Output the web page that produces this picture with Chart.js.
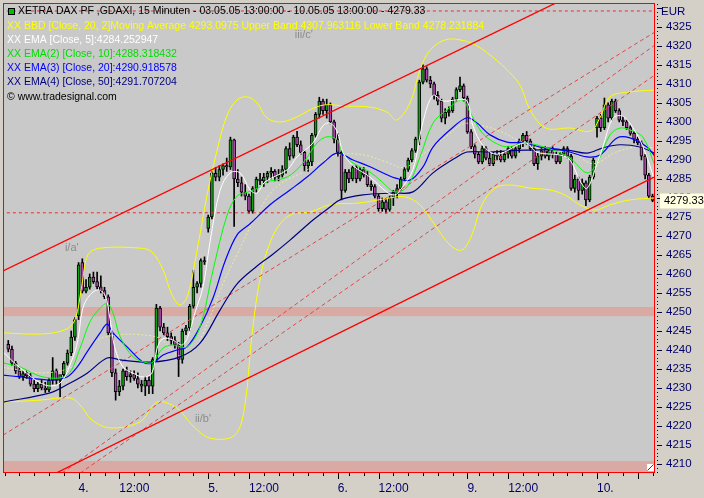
<!DOCTYPE html>
<html>
<head>
<meta charset="utf-8">
<script src="https://cdn.jsdelivr.net/npm/chart.js@4.4.1/dist/chart.umd.min.js"></script>
<style>
  html, body { margin: 0; padding: 0; background: #d4d0c8; }
  canvas { display: block; }
</style>
</head>
<body>
<canvas id="chart" width="704" height="498"></canvas>
<script>
// 15 minute candles, 03.05.05 13:00 - 10.05.05 12:45  [open, high, low, close]
const ohlc = [
  [4241.5, 4242.5, 4239.5, 4240.2], [4240.2, 4241, 4236, 4236.5], [4236.5, 4237, 4233.8, 4234.5],
  [4234.5, 4235.5, 4232.5, 4233], [4233, 4234.5, 4232, 4233.8], [4233.8, 4234.5, 4232.5, 4233.2],
  [4233.2, 4233.8, 4230.5, 4231], [4231, 4232, 4229, 4229.8], [4229.8, 4231.5, 4229, 4231],
  [4231, 4232, 4229.5, 4230], [4230, 4231.5, 4228.8, 4229.5], [4229.5, 4232.5, 4229, 4232],
  [4232, 4238, 4231, 4234.5], [4234.5, 4235, 4231, 4232], [4232, 4233, 4227.6, 4233.5],
  [4233.5, 4237, 4233, 4236.5], [4236.5, 4240, 4236, 4239.2], [4239.2, 4245, 4238.5, 4243.4],
  [4243.4, 4248.5, 4242.5, 4248],
  // 4.
  [4249, 4263, 4248, 4262.4], [4263, 4264, 4255, 4255.5], [4255.5, 4258.5, 4255, 4256.5],
  [4256.5, 4260, 4256, 4259.2], [4259.2, 4260.5, 4257.5, 4258], [4258, 4260.5, 4256, 4256.6],
  [4256.6, 4259.5, 4255, 4255.6], [4255.6, 4256.5, 4253.5, 4254], [4254, 4254.5, 4244, 4244.5],
  [4244.5, 4245, 4233, 4234], [4234, 4235, 4226.8, 4229], [4229, 4232, 4228, 4230.5],
  [4230.5, 4235, 4229.5, 4234.5], [4234.5, 4235.5, 4232, 4233], [4233, 4234.5, 4231.5, 4233.5],
  [4233.5, 4234.5, 4232, 4232.5], [4232.5, 4234, 4230, 4231], [4231, 4232, 4229, 4230.5],
  [4230.5, 4233, 4228, 4232], [4232, 4233, 4228.5, 4230.5], [4230.5, 4238, 4228.5, 4237.5],
  [4237.5, 4252, 4237, 4251], [4251, 4251.5, 4245, 4246], [4246, 4247, 4244, 4244.5],
  [4244.5, 4246, 4242.5, 4243.5], [4243.5, 4244.5, 4241.5, 4242.5], [4242.5, 4243.5, 4240.5, 4241.3],
  [4241.3, 4242, 4233, 4237.5], [4237.5, 4245.5, 4236.5, 4245], [4245, 4246.5, 4244, 4245.8],
  [4245.8, 4252, 4245, 4251.5], [4251.5, 4261, 4251, 4256.5], [4256.5, 4258, 4255, 4257.5],
  [4257.5, 4264, 4256.5, 4263.5], [4263.5, 4264.5, 4262.5, 4263.2],
  // 5.
  [4272, 4275.5, 4271, 4275], [4275, 4287, 4274.5, 4286.5], [4286.5, 4288, 4284.5, 4285.5],
  [4285.5, 4288.5, 4284.5, 4287.5], [4287.5, 4289, 4286, 4288.5], [4288.5, 4290.5, 4287, 4288.2],
  [4288.2, 4296, 4287.5, 4295.3], [4295.3, 4295.5, 4272.5, 4285], [4285, 4287.5, 4283, 4284],
  [4284, 4285.5, 4280.5, 4281.5], [4281.5, 4283.5, 4279.5, 4280.5], [4280.5, 4281, 4276, 4276.5],
  [4276.5, 4283, 4276, 4282.5], [4282.5, 4285.5, 4281.5, 4285], [4285, 4286.5, 4283.5, 4284.5],
  [4284.5, 4286.5, 4283, 4285.5], [4285.5, 4287, 4284, 4286.5], [4286.5, 4288, 4285, 4287],
  [4287, 4287.5, 4284.5, 4285.5], [4285.5, 4287.5, 4284.5, 4286], [4286, 4288.5, 4285.5, 4287.5],
  [4287.5, 4293.5, 4286.5, 4293], [4293, 4294.5, 4290, 4291], [4291, 4296.5, 4290.5, 4296],
  [4296, 4297.5, 4293.5, 4294], [4294, 4295, 4291.5, 4292], [4292, 4292.5, 4287, 4288.5],
  [4288.5, 4290, 4287, 4289.5], [4289.5, 4297, 4288.5, 4296.5], [4296.5, 4302.5, 4296, 4302],
  [4302, 4306.5, 4301, 4305.5], [4305.5, 4306, 4302, 4303], [4303, 4306, 4301, 4304.5],
  [4304.5, 4305, 4299.5, 4300], [4300, 4300.5, 4294.5, 4295.5],
  // 6.
  [4295.5, 4297, 4291, 4292], [4292, 4292.5, 4279.5, 4282], [4282, 4287.5, 4281.5, 4286.8],
  [4286.8, 4287.5, 4284, 4285], [4285, 4288.5, 4284.5, 4288], [4288, 4288.5, 4284, 4285],
  [4285, 4288, 4284.5, 4287.5], [4287.5, 4288, 4285.5, 4286], [4286, 4287, 4283, 4283.5],
  [4283.5, 4284.5, 4282, 4283], [4283, 4283.5, 4280, 4280.5], [4280.5, 4281, 4276.5, 4277.2],
  [4277.2, 4280, 4276.5, 4279], [4279, 4279.5, 4276, 4277], [4277, 4280.5, 4276.5, 4280],
  [4280, 4282, 4278, 4281.5], [4281.5, 4283.5, 4280, 4282.5], [4282.5, 4285.5, 4282, 4285],
  [4285, 4288, 4284.5, 4287.5], [4287.5, 4290.5, 4287, 4290], [4290, 4293, 4289.5, 4292.5],
  [4292.5, 4296, 4292, 4295.5], [4295.5, 4311, 4294, 4310.5], [4310.5, 4315, 4310, 4314],
  [4314, 4314.5, 4310.5, 4311], [4311, 4312, 4309, 4310], [4310, 4310.5, 4306, 4307],
  [4307, 4308, 4304.5, 4305.5], [4305.5, 4306, 4300, 4301], [4301, 4303.5, 4299.5, 4302.5],
  [4302.5, 4304, 4301.5, 4303], [4303, 4306.5, 4302.5, 4306], [4306, 4309, 4305.5, 4308.5],
  [4308.5, 4311.8, 4308, 4309.5], [4309.5, 4310, 4305.5, 4306.3],
  // 9.
  [4306.3, 4306.8, 4297, 4297.4], [4297.4, 4298, 4293, 4293.5], [4293.5, 4294, 4290.5, 4291.5],
  [4291.5, 4292, 4289, 4289.5], [4289.5, 4293.7, 4289, 4293], [4293, 4293.5, 4290, 4290.5],
  [4290.5, 4292, 4288.5, 4289], [4289, 4292, 4288.5, 4291.5], [4291.5, 4292.5, 4290, 4291],
  [4291, 4292.5, 4289.5, 4290], [4290, 4292, 4289.5, 4291.5], [4291.5, 4293.5, 4290.5, 4293],
  [4293, 4293.5, 4290.5, 4291], [4291, 4293.5, 4290.5, 4293], [4293, 4295.5, 4292, 4295],
  [4295, 4297, 4293.5, 4296.5], [4296.5, 4297.5, 4294, 4295], [4295, 4295.5, 4292.5, 4293],
  [4293, 4293.5, 4288.5, 4289], [4289, 4292, 4287.5, 4291], [4291, 4293, 4290, 4292.5],
  [4292.5, 4293.5, 4290.5, 4291], [4291, 4293, 4290, 4292.5], [4292.5, 4293.5, 4290.5, 4291.5],
  [4291.5, 4292, 4289, 4289.5], [4289.5, 4292, 4289, 4291.5], [4291.5, 4293.5, 4291, 4293],
  [4293, 4293.5, 4290.5, 4291], [4291, 4291.5, 4282, 4282.5], [4282.5, 4286, 4281.5, 4285],
  [4285, 4285.5, 4279.5, 4282], [4282, 4285, 4281, 4284], [4284, 4284.5, 4278, 4279.5],
  [4279.5, 4286, 4279, 4285.5], [4285.5, 4290.5, 4285, 4290],
  // 10.
  [4298.5, 4301.5, 4296, 4301], [4301, 4302, 4297.5, 4298.5], [4298.5, 4306.3, 4298, 4304.5],
  [4304.5, 4305, 4300, 4301], [4301, 4306, 4300.5, 4305.5], [4305.5, 4306, 4302.5, 4303],
  [4303, 4303.5, 4300, 4300.5], [4300.5, 4301.5, 4299, 4300], [4300, 4300.5, 4298, 4298.5],
  [4298.5, 4299, 4296.5, 4297], [4297, 4297.5, 4294.5, 4295.5], [4295.5, 4296, 4294, 4294.5],
  [4294.5, 4295, 4290, 4291], [4291, 4291.5, 4285, 4286], [4286, 4286.5, 4280, 4280.5],
  [4280.5, 4281, 4279, 4279.33]
];

// x axis: bar index of each tick
const xTickValues = [19, 30, 54, 65, 89, 100, 124, 135, 159, 170];
const xTickLabels = ['4.', '12:00', '5.', '12:00', '6.', '12:00', '9.', '12:00', '10.', ''];
const xMinorTicks = [-1, 3, 7, 11, 15, 22, 26, 34, 38, 42, 46, 50, 57, 61, 69, 73, 77, 81, 85,
  92, 96, 104, 108, 112, 116, 120, 127, 131, 139, 143, 147, 151, 155, 162, 166, 174];
const yTickValues = [4210, 4215, 4220, 4225, 4230, 4235, 4240, 4245, 4250, 4255, 4260, 4265,
  4270, 4275, 4280, 4285, 4290, 4295, 4300, 4305, 4310, 4315, 4320, 4325];

// indicator lines: [bar index, price]
const ema5 = [[-1.4, 4239.5], [3.2, 4235.3], [9.9, 4230.8], [14, 4231.3], [17.2, 4237.4], [18.8, 4242.6],
  [19.9, 4250], [21.3, 4253.5], [24, 4255.8], [26.1, 4254.5], [27.5, 4248], [28.8, 4240.5], [31, 4235.5],
  [33.7, 4233.9], [36.4, 4232.9], [38.8, 4233.9], [40.2, 4240.5], [41.8, 4243], [44.5, 4242.6],
  [46.9, 4241.3], [48.5, 4243.4], [50.4, 4249.7], [52.6, 4256.6], [54.5, 4268.5], [57.2, 4282],
  [59.9, 4286.6], [62.6, 4286.6], [65.3, 4282.1], [67.2, 4281.3], [69.3, 4284.2], [75.3, 4287.4],
  [78, 4290.8], [82.3, 4294.5], [85, 4299], [86.9, 4299.7], [88.8, 4297.5], [90.4, 4292], [93.1, 4288.5],
  [97.7, 4285.5], [102.3, 4281.5], [104.4, 4280.8], [105.8, 4282], [109.3, 4287.5], [112, 4300],
  [114.7, 4307], [117.4, 4305.5], [121.2, 4305.8], [123.9, 4305.5], [125.5, 4299], [128.2, 4293.8],
  [132, 4291.5], [139.6, 4294.5], [142.8, 4292], [149, 4291.3], [151.7, 4290], [154.4, 4284.5],
  [156.3, 4282.5], [159, 4289], [160.6, 4293.5], [163.3, 4301], [166, 4301.5], [168.7, 4298.5],
  [171.4, 4293.5], [174.7, 4284.25]];
const ema10 = [[-1.4, 4236.6], [3.2, 4235.5], [9.4, 4232.9], [15.9, 4233.4], [19.4, 4240.5], [22.1, 4247.5],
  [24.8, 4251], [26.7, 4252.2], [28.3, 4249.7], [30.2, 4243.5], [33.7, 4238.2], [37.5, 4236.6],
  [39.1, 4236.8], [41.8, 4240.5], [44.5, 4241.3], [48.3, 4240.8], [51.8, 4246.1], [55.3, 4261],
  [59.1, 4275.5], [61.8, 4280.5], [64.5, 4281.5], [67.2, 4282.5], [69.8, 4284.2], [75.3, 4285.5],
  [79.6, 4289.2], [83.4, 4294.5], [86.1, 4296.1], [88.8, 4295.3], [90.4, 4291.8], [93.1, 4289.2],
  [97.7, 4286.8], [100.4, 4284.7], [104.4, 4281.6], [107.7, 4282.9], [111.2, 4290.8], [114.7, 4299.7],
  [118.5, 4303.2], [122.5, 4305.8], [124.7, 4302.6], [127.4, 4297.9], [130.1, 4295.3], [134.7, 4293.4],
  [139.6, 4294.5], [147.1, 4292.6], [151.7, 4290.5], [156.3, 4286.6], [159, 4289.2], [162.5, 4296.6],
  [165.2, 4298.4], [167.9, 4297.9], [171.4, 4296], [174.7, 4288.3]];
const ema20 = [[-1.4, 4233.4], [3.2, 4232.9], [11.3, 4232.1], [15.9, 4232.9], [18.6, 4235.5], [21.3, 4239.5],
  [24.8, 4244.5], [26.7, 4246.8], [28.3, 4244.5], [32.1, 4240.8], [36.4, 4236.8], [39.1, 4236.6],
  [41.8, 4238.7], [45.6, 4240], [48.3, 4240.8], [51.8, 4246.1], [55.3, 4253.7], [58.5, 4263.2],
  [61.8, 4270.3], [65.3, 4273.2], [70.7, 4278.2], [76.1, 4282.1], [80.7, 4285.5], [85, 4289.2],
  [88.8, 4291.8], [93.1, 4290], [97.7, 4288.2], [102.3, 4286.1], [104.4, 4285.3], [108.5, 4284.7],
  [112, 4288.2], [114.7, 4293.4], [119.3, 4297.9], [123.9, 4301.1], [126.6, 4299.7], [130.1, 4296.6],
  [134.7, 4294.7], [139.6, 4294.5], [143.6, 4293.4], [149.8, 4292.6], [156.3, 4290.8], [159.8, 4291.3],
  [164.4, 4295.8], [167.9, 4295.8], [172.5, 4293.4], [174.7, 4290.9]];
const ema50 = [[-1.4, 4226.3], [11.3, 4228.7], [16.7, 4231.3], [21.3, 4233.9], [26.7, 4237.9], [30.2, 4237.4],
  [38.3, 4236.8], [46.4, 4238.2], [51.8, 4241.8], [57.2, 4250.5], [61.8, 4257.4], [67.2, 4262.1],
  [71.2, 4265], [76.1, 4268.9], [82.3, 4274.2], [86.9, 4277.6], [89.6, 4279.5], [95.8, 4280.8],
  [103.9, 4281.3], [109.3, 4281.6], [114.7, 4286.6], [121.2, 4290.8], [123.9, 4292.1], [130.1, 4292.1],
  [139.6, 4292.6], [150.9, 4292.6], [156.3, 4291.8], [160.6, 4293.2], [165.2, 4294], [170.6, 4293.4],
  [174.7, 4291.7]];
const bbUpper = [[-1.4, 4244.5], [8.6, 4244.2], [15.3, 4245.3], [18, 4247.9], [19.9, 4257.1], [21.5, 4265],
  [24.8, 4266.8], [35.6, 4266.8], [38.8, 4265.8], [41.8, 4261.1], [44.2, 4254.5], [46.4, 4251.8],
  [48.5, 4254.5], [51, 4266.3], [53.7, 4280.8], [56.4, 4292.6], [59.1, 4301.8], [61.8, 4305.8],
  [64.5, 4306.6], [67.2, 4305], [69.8, 4301.1], [73.4, 4300], [77.5, 4301.1], [81.5, 4303.2],
  [85.5, 4304.5], [90.9, 4304.2], [97.7, 4303.9], [102.3, 4302.6], [104.9, 4300.5], [108.5, 4305],
  [111.2, 4313.7], [113.9, 4318.9], [118, 4321.6], [122, 4321.6], [126.1, 4320.3], [130.1, 4317.6],
  [134.2, 4314.2], [138.2, 4309.7], [140.9, 4303.2], [145.1, 4298.4], [151.7, 4298.4], [157.2, 4297.6],
  [159.8, 4301.1], [162.5, 4306.6], [167.9, 4307.9], [174.7, 4308.4]];
const bbMiddle = [[-1.4, 4235.4], [10, 4234], [18, 4236], [24, 4242.5], [30, 4244], [36, 4244], [41, 4243],
  [46, 4238.5], [50, 4240], [54, 4247.5], [58, 4257.5], [62, 4265.5], [66, 4273.5], [72, 4282.5],
  [80, 4287], [88, 4291], [95, 4291.5], [102, 4289.5], [107, 4288], [112, 4291.5], [118, 4296],
  [123, 4299.5], [128, 4299], [133, 4297.5], [138, 4295], [145, 4292.5], [152, 4292], [158, 4289],
  [164, 4292], [170, 4293.5], [174.7, 4293.1]];
const bbLower = [[-1.4, 4226.3], [8.6, 4226.8], [16.7, 4227.4], [19.4, 4225.5], [22.6, 4221.6],
  [27.5, 4219.5], [35.6, 4221.1], [40.2, 4226.3], [45.6, 4224.7], [49.6, 4220.3], [54.5, 4216.8],
  [61.2, 4217.6], [63.9, 4225.5], [65.8, 4244], [68.5, 4261.1], [72, 4271.1], [76.1, 4275.5],
  [81.5, 4276.3], [86.9, 4278.2], [95, 4278.7], [103.1, 4280], [107.1, 4280.3], [111.2, 4278.2],
  [115.2, 4272.9], [119.3, 4267.6], [122.5, 4266.3], [125.2, 4270.3], [127.9, 4278.2], [131.4, 4282.6],
  [135.5, 4283.4], [140.9, 4282.6], [146.3, 4282.1], [150.3, 4280.8], [154.4, 4278.2], [158.4, 4276.8],
  [162.5, 4278.2], [167.9, 4279.5], [174.7, 4280]];

// drawn trend lines and levels
const channelLines = [[[-1.4, 4260.8], [150, 4332.3]], [[10, 4206.2], [174.7, 4285.6]]];
const fanLines = [[[-1.4, 4217.6], [174.7, 4323.7]], [[14.5, 4207.6], [174.7, 4320.3]], [[19.4, 4207.6], [174.7, 4312.4]]];
const levelLines = [4276.1, 4329.2];
const zones = [[4248.9, 4251.3], [4207.6, 4210.8]];
const waveLabels = [["i/a'", 15.3, 4266.8], ["ii/b'", 50.4, 4221.8], ["iii/c'", 77.4, 4322.9]];
const lastPrice = 4279.33;

const legendLines = [
  ['XETRA DAX PF ,GDAXI, 15 Minuten - 03.05.05 13:00:00 - 10.05.05 13:00:00 - 4279.33', '#000000', 18],
  ['XX BBD [Close, 20, 2]Moving Average 4293.0975 Upper Band 4307.963116 Lower Band 4278.231884', '#ffff00', 7],
  ['XX EMA [Close, 5]:4284.252947', '#ffffff', 7],
  ['XX EMA(2) [Close, 10]:4288.318432', '#00dd00', 7],
  ['XX EMA(3) [Close, 20]:4290.918578', '#0000ff', 7],
  ['XX EMA(4) [Close, 50]:4291.707204', '#000080', 7],
  ['\u00a9 www.tradesignal.com', '#000000', 7]
];

const FONT = '"Liberation Sans", Arial, sans-serif';
const UP = '#12a012';
const DOWN = '#b048b0';

const pts = arr => arr.map(([i, p]) => ({ x: i, y: p }));
const lineDs = (arr, color, order, extra) => Object.assign({
  type: 'line', data: pts(arr), borderColor: color, borderWidth: 1, pointRadius: 0,
  tension: 0.35, fill: false, order: order
}, extra || {});

const datasets = [
  {
    type: 'bar', data: ohlc.map((c, i) => ({ x: i, y: [c[2], c[1]] })),
    backgroundColor: '#000', barThickness: 1, grouped: false, order: 20
  },
  {
    type: 'bar', data: ohlc.map((c, i) => ({ x: i, y: [c[0], c[3]] })),
    backgroundColor: ohlc.map(c => c[3] >= c[0] ? UP : DOWN),
    borderColor: '#000', borderWidth: 1, borderSkipped: false,
    barThickness: 3, grouped: false, order: 19
  },
  lineDs(bbMiddle, 'rgba(245, 245, 150, 0.8)', 11, { borderDash: [2, 2] }),
  lineDs(bbUpper, '#ffff00', 10),
  lineDs(bbLower, '#ffff00', 10),
  lineDs(ema50, '#000080', 6, { borderWidth: 1.2 }),
  lineDs(ema20, '#0000ff', 5, { borderWidth: 1.2 }),
  lineDs(ema10, '#00ff00', 4),
  lineDs(ema5, '#ffffff', 3)
];
fanLines.forEach(l => datasets.push(lineDs(l, '#e04848', 8, { tension: 0, borderDash: [4, 3] })));
levelLines.forEach(v => datasets.push(lineDs([[-2, v], [176, v]], '#e03030', 8, { tension: 0, borderDash: [3, 3] })));
channelLines.forEach(l => datasets.push(lineDs(l, '#ff0000', 2, { tension: 0, borderWidth: 1.3 })));

const decor = {
  id: 'decor',
  beforeDraw(chart) {
    const { ctx, chartArea: a, scales: { x, y } } = chart;
    ctx.save();
    ctx.fillStyle = '#d4d0c8';
    ctx.fillRect(0, 0, chart.width, chart.height);
    ctx.fillStyle = '#c9c9c9';
    ctx.fillRect(a.left, a.top, a.right - a.left, a.bottom - a.top);
    ctx.fillStyle = '#d9a9a4';
    zones.forEach(([lo, hi]) => {
      const y1 = y.getPixelForValue(hi), y2 = y.getPixelForValue(lo);
      ctx.fillRect(a.left, y1, a.right - a.left, y2 - y1);
    });
    ctx.font = '11px ' + FONT;
    ctx.fillStyle = '#8c8c8c';
    ctx.textBaseline = 'middle';
    waveLabels.forEach(([t, i, p]) => ctx.fillText(t, x.getPixelForValue(i), y.getPixelForValue(p)));
    ctx.restore();
  },
  afterDraw(chart) {
    const { ctx, chartArea: a, scales: { x, y } } = chart;
    ctx.save();
    // plot frame
    ctx.strokeStyle = '#ff0000';
    ctx.lineWidth = 1;
    ctx.strokeRect(a.left + 0.5, a.top + 0.5, a.right - a.left - 1, a.bottom - a.top - 1);
    // x axis tick marks
    ctx.strokeStyle = '#000000';
    ctx.beginPath();
    xTickValues.forEach(v => {
      const px = Math.round(x.getPixelForValue(v)) + 0.5;
      ctx.moveTo(px, a.bottom); ctx.lineTo(px, a.bottom + 6);
    });
    xMinorTicks.forEach(v => {
      const px = Math.round(x.getPixelForValue(v)) + 0.5;
      ctx.moveTo(px, a.bottom); ctx.lineTo(px, a.bottom + 3);
    });
    ctx.stroke();
    // y axis ruler
    ctx.strokeStyle = '#000040';
    ctx.beginPath();
    for (let v = Math.ceil(y.min); v <= y.max; v++) {
      const py = Math.round(y.getPixelForValue(v)) + 0.5;
      ctx.moveTo(a.right + 2, py);
      ctx.lineTo(a.right + (v % 5 === 0 ? 7 : 3), py);
    }
    ctx.stroke();
    // last price box
    const py = y.getPixelForValue(lastPrice);
    ctx.fillStyle = '#ffffe1';
    ctx.fillRect(a.right + 5, py - 7, chart.width - a.right - 5, 15);
    ctx.fillStyle = '#000000';
    ctx.font = '11px ' + FONT;
    ctx.textBaseline = 'middle';
    ctx.fillText(lastPrice.toFixed(2), a.right + 9, py + 0.5);
    ctx.fillStyle = '#00006b';
    ctx.font = '11.5px ' + FONT;
    ctx.fillText('EUR', a.right + 6, 12);
    // corner marker
    ctx.fillStyle = '#ffffff';
    ctx.fillRect(a.right - 8, a.bottom - 9, 7, 7);
    ctx.strokeStyle = '#404040';
    ctx.beginPath();
    ctx.moveTo(a.right - 7.5, a.bottom - 2.5); ctx.lineTo(a.right - 1.5, a.bottom - 8.5);
    ctx.stroke();
    // legend
    ctx.font = '10.5px ' + FONT;
    legendLines.forEach(([t, c, lx], k) => {
      ctx.fillStyle = c;
      ctx.fillText(t, lx, 11.5 + k * 14.2);
    });
    ctx.fillStyle = '#00c000';
    ctx.fillRect(8, 8, 7, 7);
    ctx.strokeStyle = '#000000';
    ctx.strokeRect(8.5, 8.5, 6, 6);
    ctx.restore();
  }
};

new Chart(document.getElementById('chart'), {
  type: 'bar',
  data: { datasets },
  options: {
    responsive: false,
    animation: false,
    devicePixelRatio: 1,
    events: [],
    layout: { padding: { left: 3, top: 3, right: 0, bottom: 0 } },
    plugins: { legend: { display: false }, tooltip: { enabled: false } },
    scales: {
      x: {
        type: 'linear', min: -1.42, max: 174.66, offset: false,
        afterBuildTicks: s => { s.ticks = xTickValues.map(v => ({ value: v })); },
        ticks: {
          autoSkip: false, maxRotation: 0, align: 'start', padding: 8,
          color: '#00006b', font: { size: 12, family: FONT },
          callback: v => xTickLabels[xTickValues.indexOf(v)]
        },
        grid: { display: false, drawTicks: false },
        border: { display: false },
        afterFit: s => { s.height = 25; s.paddingLeft = 0; s.paddingRight = 0; }
      },
      y: {
        position: 'right', min: 4207.63, max: 4331.3,
        afterBuildTicks: s => { s.ticks = yTickValues.map(v => ({ value: v })); },
        ticks: {
          padding: 11, color: '#00006b', font: { size: 11.5, family: FONT },
          callback: v => String(v)
        },
        grid: { display: false, drawTicks: false },
        border: { display: false },
        afterFit: s => { s.width = 49; s.paddingTop = 0; s.paddingBottom = 0; }
      }
    }
  },
  plugins: [decor]
});
</script>
</body>
</html>
